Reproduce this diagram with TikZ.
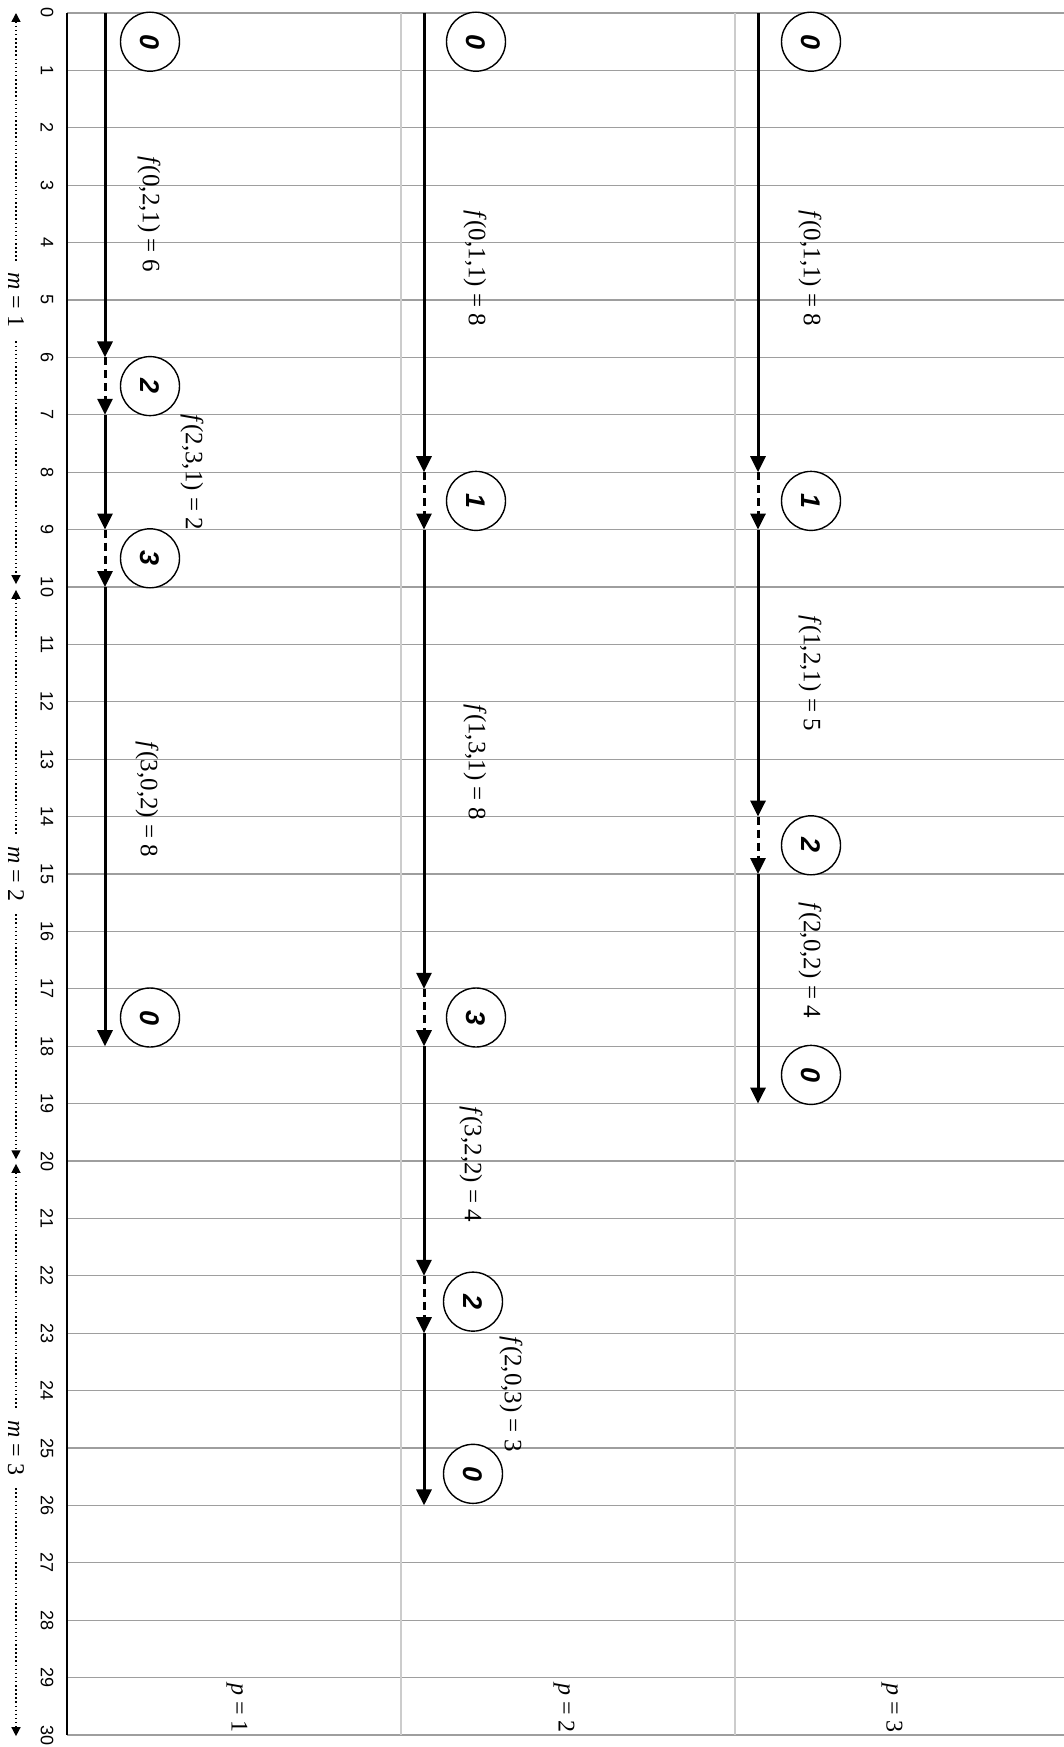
\documentclass[tikz,border=0pt]{standalone}
\usepackage{fontspec}
\setmainfont{Liberation Serif}
\newfontfamily\axisfont{Liberation Sans}
\usetikzlibrary{arrows.meta}
\begin{document}
\begin{tikzpicture}[x=1pt,y=1pt]
\useasboundingbox (0,0) rectangle (1064,-1747);
\fill[white] (0,0) rectangle (1064,-1747);
\begin{scope}[yshift=-13pt, x=1pt, y=-57.4pt,
  gridh/.style={draw=black!38, line width=1.1pt},
  gridv/.style={draw=black!20, line width=1.1pt},
  axisline/.style={draw=black, line width=1.4pt},
  axnum/.style={font=\axisfont\fontsize{18}{20}\selectfont, rotate=-90, inner sep=0pt},
  solidarr/.style={draw=black, line width=3pt, -{Triangle[length=16pt,width=15pt]}},
  dasharr/.style={draw=black, line width=3pt, dash pattern=on 8pt off 5pt, -{Triangle[length=16pt,width=15pt]}},
  state/.style={circle, draw=black, line width=1.4pt, minimum size=59pt, inner sep=0pt, fill=white,
    font=\axisfont\bfseries\itshape\fontsize{27}{29}\selectfont, rotate=-90},
  flab/.style={font=\fontsize{25}{27}\selectfont, rotate=-90, inner sep=0pt},
  mlab/.style={font=\fontsize{24}{27}\selectfont, rotate=-90, fill=white, inner xsep=12pt, inner ysep=3pt},
  plab/.style={font=\fontsize{24}{27}\selectfont, rotate=-90, inner sep=0pt},
  marr/.style={draw=black, line width=1.5pt, dash pattern=on 1.5pt off 2.6pt,
    {Triangle[length=9pt,width=9pt]}-{Triangle[length=9pt,width=9pt]}}
]
% grid
\foreach \k in {0,...,30} \draw[gridh] (67,\k) -- (1064,\k);
\draw[gridv] (401,0) -- (401,30);
\draw[gridv] (735,0) -- (735,30);
\draw[axisline] (67,0) -- (67,30);
% axis numbers
\foreach \k in {0,...,30} \node[axnum] (n\k) at (47,\k) {\k};
% m arrows
\coordinate (m0) at (16,0);
\coordinate (m10a) at (16,9.95);
\coordinate (m10b) at (16,10.05);
\coordinate (m20a) at (16,19.97);
\coordinate (m20b) at (16,20.05);
\coordinate (m30) at (16,30.02);
\draw[marr] (m0) -- (m10a);
\draw[marr] (m10b) -- (m20a);
\draw[marr] (m20b) -- (m30);
\node[mlab] (ml1) at (16,5) {\textit{m} = 1};
\node[mlab] (ml2) at (16,15) {\textit{m} = 2};
\node[mlab] (ml3) at (16,25) {\textit{m} = 3};
% p = 1 process
\foreach \v in {0,6,7,9,10,18} \coordinate (a\v) at (105,\v);
\draw[solidarr] (a0) -- (a6);
\draw[dasharr] (a6) -- (a7);
\draw[solidarr] (a7) -- (a9);
\draw[dasharr] (a9) -- (a10);
\draw[solidarr] (a10) -- (a18);
\node[state] (as0) at (150,0.5) {0};
\node[state] (as2) at (150,6.5) {2};
\node[state] (as3) at (150,9.5) {3};
\node[state] (as4) at (150,17.5) {0};
\node[flab] (al1) at (149,3.5) {\textit{f}(0,2,1) = 6};
\node[flab] (al2) at (192,8.0) {\textit{f}(2,3,1) = 2};
\node[flab] (al3) at (147,13.7) {\textit{f}(3,0,2) = 8};
% p = 2 process
\foreach \v in {0,8,9,17,18,22,23,26} \coordinate (b\v) at (424,\v);
\draw[solidarr] (b0) -- (b8);
\draw[dasharr] (b8) -- (b9);
\draw[solidarr] (b9) -- (b17);
\draw[dasharr] (b17) -- (b18);
\draw[solidarr] (b18) -- (b22);
\draw[dasharr] (b22) -- (b23);
\draw[solidarr] (b23) -- (b26);
\node[state] (bs0) at (476,0.5) {0};
\node[state] (bs1) at (476,8.5) {1};
\node[state] (bs3) at (476,17.5) {3};
\node[state] (bs2) at (473,22.45) {2};
\node[state] (bs4) at (473,25.45) {0};
\node[flab] (bl1) at (475,4.45) {\textit{f}(0,1,1) = 8};
\node[flab] (bl2) at (475,13.05) {\textit{f}(1,3,1) = 8};
\node[flab] (bl3) at (471,20.06) {\textit{f}(3,2,2) = 4};
\node[flab] (bl4) at (511,24.06) {\textit{f}(2,0,3) = 3};
% p = 3 process
\foreach \v in {0,8,9,14,15,19} \coordinate (c\v) at (758,\v);
\draw[solidarr] (c0) -- (c8);
\draw[dasharr] (c8) -- (c9);
\draw[solidarr] (c9) -- (c14);
\draw[dasharr] (c14) -- (c15);
\draw[solidarr] (c15) -- (c19);
\node[state] (cs0) at (811,0.5) {0};
\node[state] (cs1) at (811,8.5) {1};
\node[state] (cs2) at (811,14.5) {2};
\node[state] (cs3) at (811,18.5) {0};
\node[flab] (cl1) at (810,4.45) {\textit{f}(0,1,1) = 8};
\node[flab] (cl2) at (810,11.5) {\textit{f}(1,2,1) = 5};
\node[flab] (cl3) at (810,16.5) {\textit{f}(2,0,2) = 4};
% p labels
\node[plab] (p1) at (237,29.53) {\textit{p} = 1};
\node[plab] (p2) at (564,29.53) {\textit{p} = 2};
\node[plab] (p3) at (892,29.53) {\textit{p} = 3};
\end{scope}
\end{tikzpicture}
\end{document}
